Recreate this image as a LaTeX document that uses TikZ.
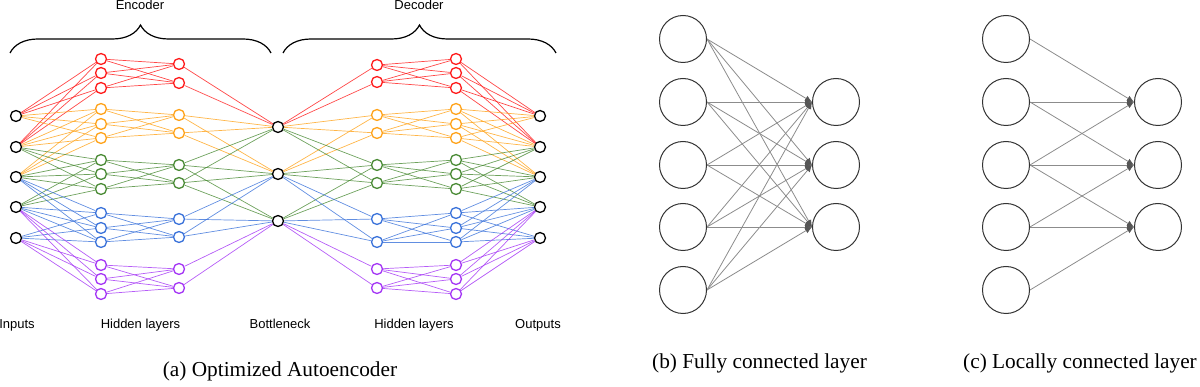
\documentclass[tikz,border=0pt]{standalone}
\usepackage{fontspec}
\setmainfont{Liberation Serif}
\newfontfamily\arialf{Liberation Sans}
\usetikzlibrary{arrows.meta,decorations.pathreplacing}
\pgfdeclarelayer{bg}
\pgfsetlayers{bg,main}
\definecolor{cR}{HTML}{FF1A1A}
\definecolor{cO}{HTML}{FFA31A}
\definecolor{cG}{HTML}{4A8B35}
\definecolor{cB}{HTML}{3A72DA}
\definecolor{cP}{HTML}{A435F5}
\definecolor{edgegray}{HTML}{8C8C8C}
\definecolor{tipgray}{HTML}{555555}
\definecolor{ringgray}{HTML}{333333}
\begin{document}
\begin{tikzpicture}[x=1pt,y=-1pt,
  unit/.style={circle, draw=#1, fill=white, line width=1.3pt, minimum size=11pt, inner sep=0pt},
  link/.style={draw=#1, line width=0.7pt, opacity=0.8},
  lbl/.style={font=\arialf\fontsize{13}{15}\selectfont, anchor=base, inner sep=0pt},
  captxt/.style={font=\fontsize{21.3}{25}\selectfont, anchor=base, inner sep=0pt},
  big/.style={circle, draw=ringgray, line width=1pt, minimum size=47pt, inner sep=0pt},
  conn/.style={draw=edgegray, line width=0.8pt, -{Latex[length=7pt,width=6pt,color=tipgray]}},
  curly/.style={decorate, decoration={brace, amplitude=28pt}, line width=1.2pt}
]
\useasboundingbox (0,0) rectangle (1200,387);

% ---------- (a) autoencoder ----------
\foreach \i/\y in {1/116,2/147,3/177,4/207,5/238} {
  \node[unit=black] (in\i) at (16,\y) {};
  \node[unit=black] (out\i) at (540,\y) {};
}
\foreach \j/\y in {1/127,2/174,3/221} \node[unit=black] (bn\j) at (278,\y) {};

\foreach \g/\c/\ya/\yb/\yc/\ea/\eb/\da/\db in {
  1/cR/59/73/88/64/83/65/82,
  2/cO/109/124/138/115/133/115/133,
  3/cG/160/174/189/165/183/165/183,
  4/cB/213/228/242/219/237/219/242,
  5/cP/265/279/294/269/288/269/288} {
  \node[unit=\c] (ea\g-1) at (101,\ya) {};
  \node[unit=\c] (ea\g-2) at (101,\yb) {};
  \node[unit=\c] (ea\g-3) at (101,\yc) {};
  \node[unit=\c] (eb\g-1) at (179,\ea) {};
  \node[unit=\c] (eb\g-2) at (179,\eb) {};
  \node[unit=\c] (da\g-1) at (377,\da) {};
  \node[unit=\c] (da\g-2) at (377,\db) {};
  \node[unit=\c] (db\g-1) at (456,\ya) {};
  \node[unit=\c] (db\g-2) at (456,\yb) {};
  \node[unit=\c] (db\g-3) at (456,\yc) {};
  \begin{pgfonlayer}{bg}
  \foreach \i in {1,...,5} {
    \pgfmathtruncatemacro\dd{abs(\i-\g)}
    \ifnum\dd<2
      \foreach \k in {1,2,3} {
        \draw[link=\c] (in\i) -- (ea\g-\k);
        \draw[link=\c] (db\g-\k) -- (out\i);
      }
    \fi
  }
  \foreach \k in {1,2,3} {
    \foreach \m in {1,2} {
      \draw[link=\c] (ea\g-\k) -- (eb\g-\m);
      \draw[link=\c] (da\g-\m) -- (db\g-\k);
    }
  }
  \foreach \j in {1,2,3} {
    \pgfmathtruncatemacro\dd{\g-\j}
    \ifnum\dd>-1 \ifnum\dd<3
      \foreach \m in {1,2} {
        \draw[link=\c] (eb\g-\m) -- (bn\j);
        \draw[link=\c] (bn\j) -- (da\g-\m);
      }
    \fi\fi
  }
  \end{pgfonlayer}
}

\coordinate (encL) at (10,53);
\coordinate (encR) at (271,53);
\coordinate (decL) at (283,53);
\coordinate (decR) at (556,53);
\draw[curly] (encL) -- (encR);
\draw[curly] (decL) -- (decR);
\node[lbl] (tenc) at (140,10) {Encoder};
\node[lbl] (tdec) at (419,10) {Decoder};

\node[lbl] (tin) at (17,329) {Inputs};
\node[lbl] (th1) at (140.5,329) {Hidden layers};
\node[lbl] (tbn) at (280,329) {Bottleneck};
\node[lbl] (th2) at (414,329) {Hidden layers};
\node[lbl] (tout) at (538,329) {Outputs};

\node[captxt] (capa) at (280,377) {(a) Optimized Autoencoder};

% ---------- (b) fully connected ----------
\foreach \i/\y in {1/39,2/102,3/165,4/227,5/290} \node[big] (bl\i) at (683,\y) {};
\foreach \j/\y in {1/102,2/165,3/227} \node[big] (br\j) at (836,\y) {};
\begin{pgfonlayer}{bg}
\foreach \i in {1,...,5} \foreach \j in {1,2,3} \draw[conn] (bl\i.east) -- (br\j.west);
\end{pgfonlayer}
\node[captxt] (capb) at (759.5,369) {(b) Fully connected layer};

% ---------- (c) locally connected ----------
\foreach \i/\y in {1/39,2/102,3/165,4/227,5/290} \node[big] (cl\i) at (1006,\y) {};
\foreach \j/\y in {1/102,2/165,3/227} \node[big] (cr\j) at (1158,\y) {};
\begin{pgfonlayer}{bg}
\foreach \j in {1,2,3} {
  \foreach \d in {0,1,2} {
    \pgfmathtruncatemacro\ii{\j+\d}
    \draw[conn] (cl\ii.east) -- (cr\j.west);
  }
}
\end{pgfonlayer}
\node[captxt] (capc) at (1080,369) {(c) Locally connected layer};
\end{tikzpicture}
\end{document}
